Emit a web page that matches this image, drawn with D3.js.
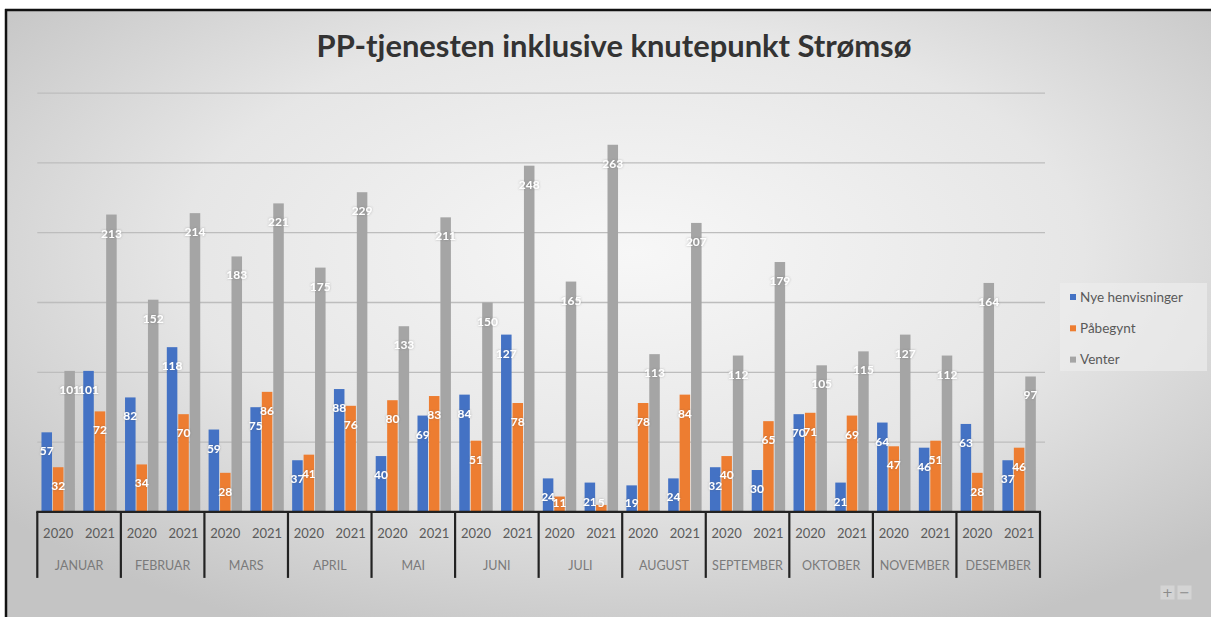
<!DOCTYPE html>
<html>
<head>
<meta charset="utf-8">
<script src="https://cdn.jsdelivr.net/npm/d3@7/dist/d3.min.js"></script>
<style>
  html, body { margin: 0; padding: 0; background: #ffffff; }
  svg { display: block; }
</style>
</head>
<body>
<svg id="chart" width="1211" height="617"></svg>
<script>
// ---------- data ----------
const title = "PP-tjenesten inklusive knutepunkt Strømsø";
const months = ["JANUAR","FEBRUAR","MARS","APRIL","MAI","JUNI","JULI","AUGUST","SEPTEMBER","OKTOBER","NOVEMBER","DESEMBER"];
const years = ["2020","2021"];
const seriesNames = ["Nye henvisninger","Påbegynt","Venter"];
const seriesColors = ["#4472C4","#ED7D31","#A5A5A5"];
// values in order: month by month, 2020 then 2021
const nyeHenvisninger = [57,101, 82,118, 59,75, 37,88, 40,69, 84,127, 24,21, 19,24, 32,30, 70,21, 64,46, 63,37];
const pabegynt        = [32,72, 34,70, 28,86, 41,76, 80,83, 51,78, 11,5, 78,84, 40,65, 71,69, 47,51, 28,46];
const venter          = [101,213, 152,214, 183,221, 175,229, 133,211, 150,248, 165,263, 113,207, 112,179, 105,115, 127,112, 164,97];
const gridTicks = [50,100,150,200,250,300];

const seriesValues = [nyeHenvisninger, pabegynt, venter];

// ---------- layout ----------
const W = 1211, H = 617;
const plot = { left: 37.3, right: 1040, top: 93.1, bottom: 511.9 };

const svg = d3.select("#chart");
const defs = svg.append("defs");

const bg = defs.append("radialGradient").attr("id","bg")
  .attr("cx","52%").attr("cy","40%").attr("r","68%");
bg.append("stop").attr("offset","0%").attr("stop-color","#f7f7f7");
bg.append("stop").attr("offset","55%").attr("stop-color","#e6e6e6");
bg.append("stop").attr("offset","100%").attr("stop-color","#c4c4c4");

const glow = defs.append("filter").attr("id","glow")
  .attr("x","-30%").attr("y","-30%").attr("width","160%").attr("height","160%");
glow.append("feDropShadow").attr("dx",0).attr("dy",0).attr("stdDeviation",0.9)
  .attr("flood-color","#5a5a5a").attr("flood-opacity",0.45);

// frame background
svg.append("rect").attr("x",6).attr("y",10).attr("width",W-6).attr("height",H-10)
  .attr("fill","url(#bg)");
// frame borders (top and left)
svg.append("line").attr("x1",5).attr("x2",W).attr("y1",10).attr("y2",10)
  .attr("stroke","#111").attr("stroke-width",2.5);
svg.append("line").attr("x1",6).attr("x2",6).attr("y1",9).attr("y2",H)
  .attr("stroke","#111").attr("stroke-width",2.5);

// ---------- scales ----------
const keys = [];
months.forEach(m => years.forEach(y => keys.push(m + "|" + y)));

const xMonth = d3.scaleBand().domain(months).range([plot.left, plot.right]).padding(0);
const xSlot = d3.scaleBand().domain(keys).range([plot.left, plot.right]).paddingInner(0.2).paddingOuter(0.1);
const xSeries = d3.scaleBand().domain(seriesNames).range([0, xSlot.bandwidth()]).paddingInner(0.08);
const y = d3.scaleLinear().domain([0, 300]).range([plot.bottom, plot.top]);

// ---------- gridlines ----------
svg.append("g").selectAll("line").data(gridTicks).join("line")
  .attr("x1", plot.left).attr("x2", plot.right + 5)
  .attr("y1", d => y(d)).attr("y2", d => y(d))
  .attr("stroke", "#bdbdbd").attr("stroke-width", 1.3);

// ---------- title ----------
const t = svg.append("text").text(title)
  .attr("x", 614).attr("y", 57)
  .attr("text-anchor","middle")
  .attr("font-family","Lato, 'Open Sans', sans-serif")
  .attr("font-weight","bold")
  .attr("font-size", 25)
  .attr("fill","#333333");
const tw = t.node().getComputedTextLength();
t.attr("font-size", 25 * 595 / tw);

// ---------- bars ----------
const barData = [];
keys.forEach((k, i) => {
  seriesNames.forEach((s, si) => {
    barData.push({ key: k, series: s, si: si, value: seriesValues[si][i] });
  });
});

const barsG = svg.append("g");
barsG.selectAll("rect").data(barData).join("rect")
  .attr("x", d => xSlot(d.key) + xSeries(d.series))
  .attr("width", xSeries.bandwidth())
  .attr("y", d => y(d.value))
  .attr("height", d => y(0) - y(d.value))
  .attr("fill", d => seriesColors[d.si]);

// data labels (inside end, white with soft glow)
svg.append("g").selectAll("text").data(barData).join("text")
  .attr("x", d => xSlot(d.key) + xSeries(d.series) + xSeries.bandwidth() / 2)
  .attr("y", d => Math.min(y(d.value) + 23, y(0) - 5))
  .attr("text-anchor","middle")
  .attr("font-family","Lato, 'Open Sans', sans-serif")
  .attr("font-weight","bold")
  .attr("font-size", 12)
  .attr("fill","#ffffff")
  .attr("filter","url(#glow)")
  .text(d => d.value);

// ---------- x axis ----------
const axisG = svg.append("g");
axisG.append("line").attr("x1", plot.left - 1).attr("x2", plot.right + 1)
  .attr("y1", y(0)).attr("y2", y(0))
  .attr("stroke","#222").attr("stroke-width",2.2);
const boundaries = months.map(m => xMonth(m)).concat([plot.right]);
axisG.selectAll("line.tick").data(boundaries).join("line").attr("class","tick")
  .attr("x1", d => d).attr("x2", d => d)
  .attr("y1", y(0)).attr("y2", y(0) + 66)
  .attr("stroke","#222").attr("stroke-width",2.2);

axisG.selectAll("text.year").data(keys).join("text").attr("class","year")
  .attr("x", d => {
    const m = d.split("|")[0];
    const yr = d.split("|")[1];
    return xMonth(m) + xMonth.bandwidth() * (yr === years[0] ? 0.25 : 0.75);
  })
  .attr("y", y(0) + 26)
  .attr("text-anchor","middle")
  .attr("font-family","Lato, 'Open Sans', sans-serif")
  .attr("font-size", 13)
  .attr("fill","#5a5a5a")
  .text(d => d.split("|")[1]);

axisG.selectAll("text.month").data(months).join("text").attr("class","month")
  .attr("x", d => xMonth(d) + xMonth.bandwidth() / 2)
  .attr("y", y(0) + 58)
  .attr("text-anchor","middle")
  .attr("font-family","Lato, 'Open Sans', sans-serif")
  .attr("font-size", 12.5)
  .attr("fill","#7a7a7a")
  .text(d => d);

// ---------- legend ----------
const lg = svg.append("g").attr("transform","translate(1060,283)");
lg.append("rect").attr("width",147).attr("height",88)
  .attr("fill","#ececec").attr("opacity",0.7);
const li = lg.selectAll("g.item").data(seriesNames).join("g").attr("class","item")
  .attr("transform",(d,i) => `translate(0,${14 + i * 31.3})`);
li.append("rect").attr("x",10).attr("y",-3).attr("width",6).attr("height",6)
  .attr("fill",(d,i) => seriesColors[i]);
li.append("text").attr("x",20).attr("y",4.5)
  .attr("font-family","Lato, 'Open Sans', sans-serif")
  .attr("font-size", 13.5)
  .attr("fill","#595959")
  .text(d => d);

// ---------- zoom buttons ----------
const zb = svg.append("g").attr("transform","translate(1160,585)");
["+","\u2212"].forEach((s,i) => {
  zb.append("rect").attr("x", i*17).attr("y",0).attr("width",15).attr("height",15)
    .attr("fill","#d4d4d4").attr("stroke","#c4c4c4");
  zb.append("text").attr("x", i*17 + 7.5).attr("y",12)
    .attr("text-anchor","middle").attr("font-family","DejaVu Sans, sans-serif")
    .attr("font-size",13).attr("fill","#8a8a8a").text(s);
});
</script>
</body>
</html>
